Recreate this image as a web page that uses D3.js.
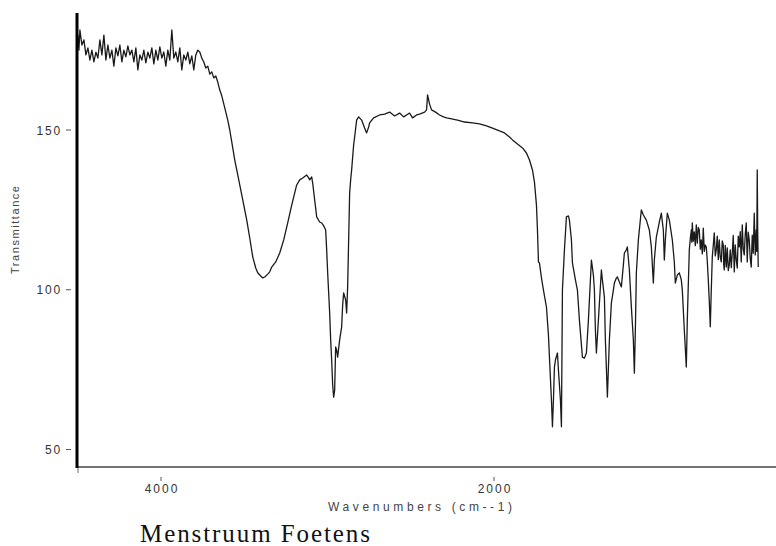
<!DOCTYPE html>
<html><head><meta charset="utf-8">
<script src="https://cdn.jsdelivr.net/npm/d3@7"></script>
<style>body{margin:0;background:#fff}svg{display:block}</style>
</head><body><svg id="c" width="776" height="546"></svg>
<script>
const yTicks = [50, 100, 150];
const xTicks = [4000, 2000];
const xTitle = "Wavenumbers (cm--1)";
const yTitle = "Transmittance";
const caption = "Menstruum Foetens";
// [wavenumber (cm-1), transmittance]
const spectrum = [
[4499,179.7],[4493,175.0],[4487,181.3],[4475,176.6],[4463,178.2],[4451,173.5],[4439,175.7],[4427,171.9],
[4415,175.0],[4403,171.3],[4391,174.4],[4379,172.5],[4367,178.2],[4355,173.5],[4343,179.7],[4331,171.9],
[4319,176.6],[4307,172.5],[4295,175.0],[4283,170.0],[4271,175.7],[4259,173.2],[4247,176.6],[4235,171.3],
[4223,175.0],[4211,172.9],[4199,176.3],[4187,173.5],[4175,175.0],[4163,171.3],[4151,175.7],[4139,168.8],
[4127,173.5],[4115,171.9],[4103,175.0],[4091,171.0],[4079,174.4],[4067,172.5],[4055,175.7],[4043,170.7],
[4031,175.0],[4019,171.9],[4007,176.0],[3995,172.5],[3983,174.4],[3971,170.0],[3959,175.0],[3947,171.9],
[3935,181.3],[3923,172.5],[3911,174.4],[3899,171.3],[3887,175.7],[3875,168.8],[3863,173.5],[3851,171.9],
[3839,174.4],[3827,170.7],[3815,173.2],[3803,168.8],[3791,173.5],[3779,175.0],[3767,174.4],[3755,172.5],
[3743,171.3],[3731,169.4],[3719,170.0],[3707,167.5],[3695,168.2],[3683,166.3],[3671,166.9],[3659,165.0],
[3647,162.5],[3635,160.7],[3617,156.9],[3599,153.1],[3587,150.0],[3569,144.4],[3557,140.6],[3545,137.5],
[3527,132.8],[3509,128.1],[3485,121.8],[3467,116.2],[3449,110.3],[3431,106.8],[3419,105.3],[3401,104.3],
[3389,103.7],[3377,104.0],[3359,104.9],[3347,105.6],[3335,107.1],[3311,108.7],[3287,111.5],[3263,115.6],
[3239,120.9],[3215,126.5],[3185,132.8],[3167,134.4],[3149,135.0],[3125,135.9],[3113,135.0],[3107,134.4],
[3095,135.3],[3089,133.4],[3077,128.1],[3065,122.8],[3047,121.2],[3035,120.9],[3023,120.0],[3011,118.7],
[3005,112.5],[2999,105.3],[2993,99.0],[2987,92.7],[2981,84.3],[2975,78.0],[2969,70.2],[2963,66.4],
[2957,68.6],[2951,82.1],[2945,81.1],[2939,78.9],[2927,84.3],[2915,88.4],[2909,95.2],[2903,99.0],
[2891,96.8],[2885,92.7],[2879,100.9],[2873,115.6],[2867,130.3],[2861,134.4],[2855,137.5],[2843,145.3],
[2837,147.8],[2825,153.1],[2813,154.1],[2795,153.1],[2777,150.6],[2765,149.1],[2753,150.9],[2747,152.2],
[2723,153.8],[2687,154.7],[2657,155.0],[2627,155.6],[2597,154.4],[2567,155.3],[2543,154.1],[2525,154.7],
[2507,155.3],[2489,153.8],[2465,154.7],[2447,155.0],[2417,155.6],[2405,156.3],[2399,161.0],[2387,158.1],
[2375,156.3],[2351,155.6],[2327,154.7],[2303,154.1],[2285,153.8],[2255,153.5],[2219,153.1],[2177,152.5],
[2129,152.2],[2087,151.9],[2045,151.3],[2009,150.6],[1967,149.7],[1937,149.1],[1907,147.8],[1889,146.9],
[1859,145.6],[1829,144.4],[1805,142.8],[1787,140.6],[1769,137.5],[1757,133.7],[1745,126.5],[1739,118.7],
[1733,108.7],[1727,108.4],[1715,103.7],[1703,99.9],[1685,94.6],[1673,85.8],[1667,78.9],[1655,65.5],
[1649,57.1],[1643,65.5],[1637,75.8],[1631,78.0],[1619,80.2],[1613,74.9],[1601,65.5],[1595,57.1],
[1589,99.9],[1577,112.5],[1565,122.8],[1553,123.1],[1547,121.8],[1535,115.6],[1529,108.4],[1511,103.1],
[1499,99.9],[1487,90.5],[1469,78.9],[1457,78.6],[1445,80.2],[1433,90.5],[1415,109.3],[1403,104.6],
[1397,99.9],[1391,87.4],[1385,80.2],[1373,90.5],[1355,106.2],[1349,103.1],[1337,97.7],[1331,84.3],
[1319,66.4],[1307,84.3],[1295,95.9],[1283,99.9],[1277,102.1],[1265,103.7],[1259,104.0],[1247,102.4],
[1235,100.9],[1223,107.8],[1217,111.5],[1205,112.5],[1199,113.4],[1187,106.2],[1175,94.6],[1163,84.3],
[1157,73.9],[1151,87.4],[1145,105.3],[1133,115.6],[1115,125.0],[1103,123.4],[1085,121.8],[1067,118.7],
[1055,113.4],[1049,107.8],[1043,102.1],[1037,109.3],[1025,116.5],[1007,121.2],[995,124.0],[983,118.7],
[977,109.3],[971,115.6],[959,124.0],[947,121.8],[929,115.6],[917,108.7],[911,102.1],[899,104.6],
[887,105.3],[875,103.1],[869,99.9],[857,87.4],[845,75.8],[839,90.5],
[827,112.5],[821,116.0],[815,118.7],[812,114.9],[809,120.9],[803,115.2],[797,118.1],[791,113.8],
[785,120.3],[779,114.6],[773,119.5],[767,118.7],[761,112.7],[755,115.6],[749,111.2],[743,119.3],
[737,112.0],[731,114.0],[725,113.4],[719,109.0],[713,103.1],[707,96.5],[701,88.4],[695,99.9],
[689,110.2],[683,114.0],[677,117.8],[671,110.6],[665,112.5],[659,116.8],[653,109.4],[647,115.6],
[641,110.1],[635,108.7],[629,115.3],[623,114.0],[620,107.7],[617,106.2],[611,113.9],[605,107.1],
[599,113.1],[593,106.0],[587,107.8],[581,112.5],[575,106.9],[569,111.5],[563,117.0],[557,105.6],
[551,114.0],[545,109.3],[539,106.8],[533,116.8],[527,113.4],[521,118.2],[515,108.7],[509,120.3],
[503,112.8],[497,110.9],[491,117.4],[485,120.9],[479,108.7],[473,118.0],[467,115.6],[461,109.8],
[455,107.1],[449,117.1],[443,111.4],[437,124.0],[431,110.9],[425,118.7],[422,112.0],[419,137.5],
[416,118.0],[413,107.1]
];

const svg = d3.select("#c");
const x = d3.scaleLinear().domain([4000, 2000]).range([161, 494]);
const y = d3.scaleLinear().domain([50, 150]).range([449.5, 130]);

const axisX0 = 77, axisY0 = 467, plotTop = 13, plotRight = 776;

// spectrum line
svg.append("path")
  .datum(spectrum)
  .attr("fill", "none")
  .attr("stroke", "#1a1a1a")
  .attr("stroke-width", 1.3)
  .attr("stroke-linejoin", "round")
  .attr("d", d3.line().x(d => x(d[0])).y(d => y(d[1])));

// axes lines
svg.append("line").attr("x1", axisX0).attr("x2", plotRight).attr("y1", axisY0).attr("y2", axisY0)
  .attr("stroke", "#444").attr("stroke-width", 1.6);
svg.append("line").attr("x1", axisX0).attr("x2", axisX0).attr("y1", plotTop).attr("y2", axisY0 + 1)
  .attr("stroke", "#000").attr("stroke-width", 3);

// y ticks
const yg = svg.append("g");
yTicks.forEach(v => {
  yg.append("line").attr("x1", 66).attr("x2", 71).attr("y1", y(v)).attr("y2", y(v))
    .attr("stroke", "#555").attr("stroke-width", 1);
  yg.append("text").attr("x", 62).attr("y", y(v) + 4.5).attr("text-anchor", "end")
    .attr("font-family", "Liberation Sans, Arial, sans-serif").attr("font-size", 12)
    .attr("letter-spacing", 1.8).attr("fill", "#333").text(v);
});

// x ticks
const xg = svg.append("g");
xTicks.forEach(v => {
  xg.append("line").attr("x1", x(v)).attr("x2", x(v)).attr("y1", 477).attr("y2", 481)
    .attr("stroke", "#555").attr("stroke-width", 1);
  xg.append("text").attr("x", x(v) + 1).attr("y", 493).attr("text-anchor", "middle")
    .attr("font-family", "Liberation Sans, Arial, sans-serif").attr("font-size", 12)
    .attr("letter-spacing", 2).attr("fill", "#333").text(v);
});
svg.append("line").attr("x1", 78).attr("x2", 78).attr("y1", 468).attr("y2", 473)
  .attr("stroke", "#666").attr("stroke-width", 1);

// titles
svg.append("text").attr("x", 420).attr("y", 511).attr("text-anchor", "middle")
  .attr("font-family", "Liberation Sans, Arial, sans-serif").attr("font-size", 12)
  .attr("textLength", 184).attr("lengthAdjust", "spacing")
  .attr("fill", "#444").text(xTitle);
svg.append("text").attr("transform", "translate(19,230) rotate(-90)").attr("text-anchor", "middle")
  .attr("font-family", "Liberation Sans, Arial, sans-serif").attr("font-size", 11)
  .attr("textLength", 88).attr("lengthAdjust", "spacing")
  .attr("fill", "#444").text(yTitle);
svg.append("text").attr("x", 140).attr("y", 542)
  .attr("font-family", "Liberation Serif, Times New Roman, serif").attr("font-size", 25)
  .attr("textLength", 230).attr("lengthAdjust", "spacing")
  .attr("fill", "#111").text(caption);
</script></body></html>
